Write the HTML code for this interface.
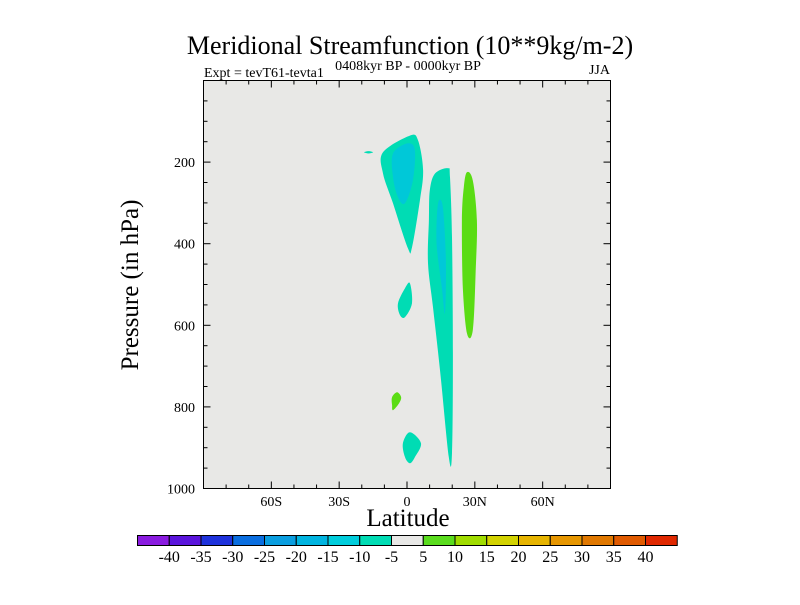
<!DOCTYPE html>
<html><head><meta charset="utf-8"><style>
body{margin:0;background:#fff;}
svg text{font-family:"Liberation Serif",serif;fill:#000;}
</style></head><body>
<svg id="chart" width="800" height="600" viewBox="0 0 800 600" xmlns="http://www.w3.org/2000/svg">
<text x="410" y="54" font-size="26" text-anchor="middle">Meridional Streamfunction (10**9kg/m-2)</text>
<text x="204" y="77" font-size="14">Expt = tevT61-tevta1</text>
<text x="408" y="70" font-size="14" text-anchor="middle">0408kyr BP - 0000kyr BP</text>
<text x="610" y="74" font-size="14" text-anchor="end">JJA</text>
<rect x="203.5" y="80.5" width="407" height="408" fill="#e8e8e6" stroke="#000" stroke-width="1"/>
<g id="shapes"></g>
<g id="axes"></g>
<text x="408" y="526" font-size="25" text-anchor="middle">Latitude</text>
<text transform="translate(138,285) rotate(-90)" font-size="25" text-anchor="middle">Pressure (in hPa)</text>
<g id="colorbar"></g>
</svg>
<script>
const xTicks=[-60,-30,0,30,60];
const xTickLabels=["60S","30S","0","30N","60N"];
const yTicks=[200,400,600,800,1000];
const levels=[-40,-35,-30,-25,-20,-15,-10,-5,5,10,15,20,25,30,35,40];
const barColors=["#8a1be0","#5a14dc","#1e32dc","#0a6ee0","#0a9ee0","#00b4e0","#00cddc","#00dcb4","#e8e8e6","#5adc1e","#a0dc00","#d2d200","#e6b400","#e69600","#e07800","#e05a00","#e02800"];
const regionTeal1=[[-10.6,176],[1.3,135],[4.9,147],[7.1,220],[5.7,294],[2.2,409],[0.4,411],[-6.2,301],[-10.6,228]];
const regionBlue1=[[-6.2,179],[0.4,154],[3.5,171],[2.6,245],[-0.9,301],[-4,286],[-6.2,237]];
const regionSmall=[[-19,176],[-17,173],[-15,176],[-17,179]];
const regionTeal2=[[10.1,269],[12.4,228],[18.1,215],[19,237],[19.9,384],[20.3,668],[19.9,913],[18.5,923],[14.6,710],[11.5,556],[9.3,448],[9.7,343]];
const regionBlue2=[[13.2,335],[14.1,294],[15.9,313],[17.2,441],[16.8,570],[15.4,507],[13.2,409]];
const regionGreen1=[[26.5,225],[29.1,245],[30.9,343],[30.4,465],[29.1,612],[26.5,619],[24.7,507],[24.3,343],[25.1,262]];
const regionTeal3=[[-4,546],[-0.9,509],[1.3,497],[2.2,546],[-0.9,580],[-3.1,575]];
const regionGreen2=[[-6.6,776],[-4.4,764],[-2.6,776],[-3.5,791],[-6.2,808],[-6.6,796]];
const regionTeal4=[[-1.8,889],[1.3,862],[6.2,889],[3.5,923],[1.3,938],[-0.9,923]];
const regions=[[regionTeal1,"#00dcb4","teal-region-upper"],[regionBlue1,"#00c8d8","blue-region-upper"],[regionSmall,"#00dcb4","teal-region-small"],[regionTeal2,"#00dcb4","teal-column"],[regionBlue2,"#00c8d8","blue-column-core"],[regionGreen1,"#5adc14","green-column"],[regionTeal3,"#00dcb4","teal-region-mid"],[regionGreen2,"#5adc14","green-region-small"],[regionTeal4,"#00dcb4","teal-region-bottom"]];
const NS="http://www.w3.org/2000/svg";
const X0=203.5,X1=610.5,Y0=80.5,Y1=488.5;
function xs(lat){return X0+(lat+90)/180*(X1-X0);}
function ys(p){return Y0+p/1000*(Y1-Y0);}
function mk(t,a,parent){const e=document.createElementNS(NS,t);for(const k in a)e.setAttribute(k,a[k]);parent.appendChild(e);return e;}
function smoothPath(pts){
  const n=pts.length;let d="M"+pts[0][0].toFixed(1)+","+pts[0][1].toFixed(1);
  for(let i=0;i<n;i++){
    const p0=pts[(i-1+n)%n],p1=pts[i],p2=pts[(i+1)%n],p3=pts[(i+2)%n];
    const c1=[p1[0]+(p2[0]-p0[0])/6,p1[1]+(p2[1]-p0[1])/6];
    const c2=[p2[0]-(p3[0]-p1[0])/6,p2[1]-(p3[1]-p1[1])/6];
    d+="C"+c1.map(v=>v.toFixed(1)).join(",")+" "+c2.map(v=>v.toFixed(1)).join(",")+" "+p2.map(v=>v.toFixed(1)).join(",");
  }
  return d+"Z";
}
const sg=document.getElementById('shapes');
regions.forEach(r=>{
  const pts=r[0].map(d=>[xs(d[0]),ys(d[1])]);
  const el=mk('path',{d:smoothPath(pts),fill:r[1]},sg);
  
  
});
const ag=document.getElementById('axes');
const st={stroke:"#000","stroke-width":1};
for(let lat=-80;lat<=80;lat+=10){
  const major=lat%30===0, len=major?7:4, x=xs(lat);
  mk('line',Object.assign({x1:x,x2:x,y1:Y1,y2:Y1-len},st),ag);
  mk('line',Object.assign({x1:x,x2:x,y1:Y0,y2:Y0+len},st),ag);
}
for(let p=50;p<1000;p+=50){
  const major=p%200===0, len=major?7:4, y=ys(p);
  mk('line',Object.assign({x1:X0,x2:X0+len,y1:y,y2:y},st),ag);
  mk('line',Object.assign({x1:X1,x2:X1-len,y1:y,y2:y},st),ag);
}
xTicks.forEach((v,i)=>{
  const t=mk('text',{x:xs(v),y:506,"font-size":14,"text-anchor":"middle"},ag);
  t.textContent=xTickLabels[i];
  
  
});
yTicks.forEach(v=>{
  const t=mk('text',{x:195,y:ys(v)+5,"font-size":14,"text-anchor":"end"},ag);
  t.textContent=v;
  
  
});
const cg=document.getElementById('colorbar');
const cx0=137.5,cw=31.75,cy=535.5,ch=10;
barColors.forEach((c,i)=>{
  const r=mk('rect',{x:cx0+i*cw,y:cy,width:cw,height:ch,fill:c,stroke:"#000","stroke-width":1},cg);
  
  
});
levels.forEach((v,i)=>{
  const t=mk('text',{x:cx0+(i+1)*cw,y:562,"font-size":16,"text-anchor":"middle"},cg);
  t.textContent=v;
  
  
});
</script>
</body></html>
